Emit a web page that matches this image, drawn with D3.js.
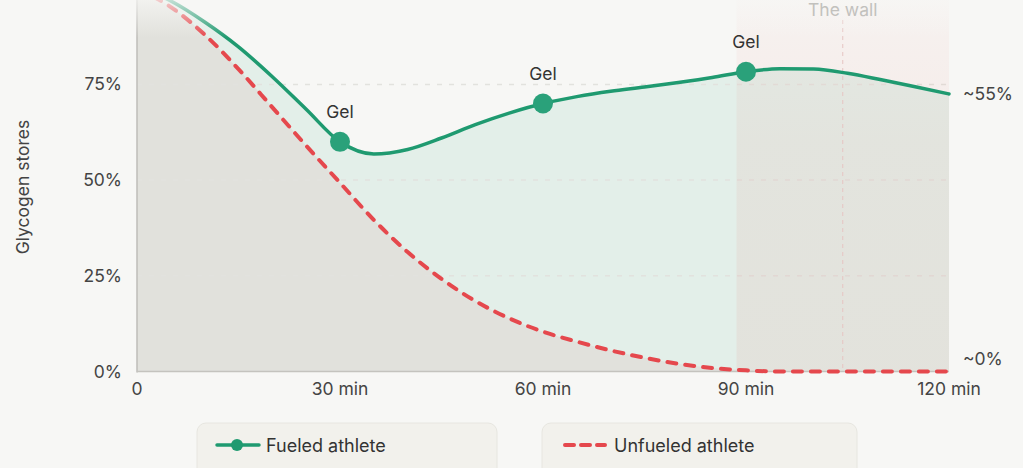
<!DOCTYPE html>
<html lang="en">
<head>
<meta charset="UTF-8">
<title>Glycogen stores</title>
<script src="https://cdn.jsdelivr.net/npm/d3@7"></script>
<style>
    html, body { margin: 0; padding: 0; background: #f7f7f5; overflow: hidden; }
    svg { display: block; font-family: "Inter", "Noto Sans", sans-serif; }
</style>
</head>
<body>
<div id="chart"></div>
<script>
    // time in minutes
    var minutes = [0, 5, 10, 15, 20, 25, 30, 35, 40, 45, 50, 55, 60, 65, 70, 75, 80, 85, 90, 95, 100, 105, 110, 115, 120];
    // glycogen %
    var fueled = [100.5, 96.8, 91.3, 84.8, 77, 68.5, 60, 56.8, 58, 61, 64.5, 67.5, 70, 71.8, 73.2, 74.3, 75.5, 76.8, 78.3, 79.1, 79, 77.9, 76.2, 74.4, 72.5];
    var unfueled = [100, 95.2, 88, 79, 69, 59, 49.3, 39.6, 31.2, 24.2, 18.4, 13.9, 10.4, 7.8, 5.5, 3.6, 2, 0.9, 0.3, 0, 0, 0, 0, 0, 0];
    var gelTimes = [30, 60, 90];
    var gelValues = [60, 70, 78.3];
    var yTicks = [0, 25, 50, 75];
    var xTicks = [0, 30, 60, 90, 120];
    var xTickLabels = ["0", "30 min", "60 min", "90 min", "120 min"];
    var wallStart = 88.6, wallEnd = 120;
    var legendLabels = ["Fueled athlete", "Unfueled athlete"];

    var width = 1023, height = 468;
    var green = "#1f9a70", red = "#e5484d";
    var fs = 17.5;

    var svg = d3.select("#chart").append("svg")
        .attr("width", width).attr("height", height);

    var x = d3.scaleLinear().domain([0, 120]).range([137, 949]);
    var y = d3.scaleLinear().domain([0, 100]).range([371.5, -11.3]);

    var defs = svg.append("defs");
    var wg = defs.append("linearGradient").attr("id", "wallGrad")
        .attr("x1", 0).attr("y1", 0).attr("x2", 0).attr("y2", 1);
    wg.append("stop").attr("offset", "0%").attr("stop-color", "#e0524a").attr("stop-opacity", 0.03);
    wg.append("stop").attr("offset", "40%").attr("stop-color", "#e0524a").attr("stop-opacity", 0.07);
    wg.append("stop").attr("offset", "100%").attr("stop-color", "#e0524a").attr("stop-opacity", 0.08);

    var fg = defs.append("linearGradient").attr("id", "fadeTop")
        .attr("x1", 0).attr("y1", 0).attr("x2", 0).attr("y2", 1);
    fg.append("stop").attr("offset", "0%").attr("stop-color", "#f7f7f5").attr("stop-opacity", 0.75);
    fg.append("stop").attr("offset", "100%").attr("stop-color", "#f7f7f5").attr("stop-opacity", 0);

    var fuelData = minutes.map(function(m, i) { return {t: m, v: fueled[i]}; });
    var unfuelData = minutes.map(function(m, i) { return {t: m, v: unfueled[i]}; });

    var area = d3.area().curve(d3.curveMonotoneX)
        .x(function(d) { return x(d.t); })
        .y0(y(0))
        .y1(function(d) { return y(d.v); });
    var line = d3.line().curve(d3.curveMonotoneX)
        .x(function(d) { return x(d.t); })
        .y(function(d) { return y(d.v); });

    // areas
    svg.append("path").datum(fuelData).attr("d", area).attr("fill", "#e3efe9");
    svg.append("path").datum(unfuelData).attr("d", area).attr("fill", "#e1e1dc");

    // grid lines
    svg.append("g").selectAll("line")
        .data(yTicks.filter(function(d) { return d > 0; }))
        .join("line")
        .attr("x1", x(0)).attr("x2", x(120))
        .attr("y1", function(d) { return y(d); })
        .attr("y2", function(d) { return y(d); })
        .attr("stroke", "#e2e2de")
        .attr("stroke-width", 1.5)
        .attr("stroke-dasharray", "5,7");

    // the wall
    svg.append("rect")
        .attr("x", x(wallStart)).attr("y", y(100))
        .attr("width", x(wallEnd) - x(wallStart))
        .attr("height", y(0) - y(100))
        .attr("fill", "url(#wallGrad)");
    var wallMid = (wallStart + wallEnd) / 2;
    svg.append("line")
        .attr("x1", x(wallMid)).attr("x2", x(wallMid))
        .attr("y1", 20).attr("y2", y(0))
        .attr("stroke", "#e6c4c2")
        .attr("stroke-width", 1)
        .attr("stroke-dasharray", "4,4");

    // axes lines
    svg.append("line")
        .attr("x1", x(0)).attr("x2", x(0))
        .attr("y1", y(100)).attr("y2", y(0) + 1)
        .attr("stroke", "#bebdb8").attr("stroke-width", 1.5);
    svg.append("line")
        .attr("x1", x(0)).attr("x2", x(120))
        .attr("y1", y(0)).attr("y2", y(0))
        .attr("stroke", "#c4c3be").attr("stroke-width", 1.5);

    // lines
    svg.append("path").datum(unfuelData).attr("d", line)
        .attr("fill", "none").attr("stroke", red)
        .attr("stroke-width", 4)
        .attr("stroke-linecap", "round")
        .attr("stroke-dasharray", "9,9");
    svg.append("path").datum(fuelData).attr("d", line)
        .attr("fill", "none").attr("stroke", green)
        .attr("stroke-width", 3.5)
        .attr("stroke-linecap", "round");

    // top fade
    svg.append("rect")
        .attr("x", 0).attr("y", 0).attr("width", width).attr("height", 38)
        .attr("fill", "url(#fadeTop)");

    svg.append("text")
        .attr("x", x(wallMid)).attr("y", 16)
        .attr("text-anchor", "middle")
        .attr("font-size", fs)
        .attr("fill", "#c2c1bd")
        .text("The wall");

    // gel markers
    svg.append("g").selectAll("circle")
        .data(gelTimes)
        .join("circle")
        .attr("cx", function(d) { return x(d); })
        .attr("cy", function(d, i) { return y(gelValues[i]); })
        .attr("r", 10)
        .attr("fill", "#2aa17a");
    svg.append("g").selectAll("text")
        .data(gelTimes)
        .join("text")
        .attr("x", function(d) { return x(d); })
        .attr("y", function(d, i) { return y(gelValues[i]) - 24; })
        .attr("text-anchor", "middle")
        .attr("font-size", fs)
        .attr("fill", "#333")
        .text("Gel");

    // tick labels
    svg.append("g").selectAll("text")
        .data(yTicks)
        .join("text")
        .attr("x", 122)
        .attr("y", function(d) { return y(d) + 6; })
        .attr("text-anchor", "end")
        .attr("font-size", fs)
        .attr("fill", "#444")
        .text(function(d) { return d + "%"; });
    svg.append("g").selectAll("text")
        .data(xTicks)
        .join("text")
        .attr("x", function(d) { return x(d); })
        .attr("y", 395)
        .attr("text-anchor", "middle")
        .attr("font-size", fs)
        .attr("fill", "#444")
        .text(function(d, i) { return xTickLabels[i]; });

    svg.append("text")
        .attr("transform", "translate(29,187) rotate(-90)")
        .attr("text-anchor", "middle")
        .attr("font-size", fs)
        .attr("fill", "#444")
        .text("Glycogen stores");

    // end labels
    svg.append("text").attr("x", 963).attr("y", 100)
        .attr("font-size", fs).attr("fill", "#444").text("~55%");
    svg.append("text").attr("x", 963).attr("y", 365)
        .attr("font-size", fs).attr("fill", "#444").text("~0%");

    // legend
    var legend = svg.append("g");
    var boxes = [{x: 197, w: 300}, {x: 542, w: 315}];
    boxes.forEach(function(b, i) {
        legend.append("rect")
            .attr("x", b.x).attr("y", 423)
            .attr("width", b.w).attr("height", 70)
            .attr("rx", 9)
            .attr("fill", "#f2f1ec")
            .attr("stroke", "#e7e6e0");
        legend.append("text")
            .attr("x", b.x + (i === 0 ? 69 : 72)).attr("y", 451.5)
            .attr("font-size", 18).attr("fill", "#333")
            .text(legendLabels[i]);
    });
    legend.append("line")
        .attr("x1", 217).attr("x2", 259).attr("y1", 445).attr("y2", 445)
        .attr("stroke", green).attr("stroke-width", 3.5).attr("stroke-linecap", "round");
    legend.append("circle").attr("cx", 237).attr("cy", 445).attr("r", 6).attr("fill", green);
    legend.append("line")
        .attr("x1", 565).attr("x2", 605).attr("y1", 445).attr("y2", 445)
        .attr("stroke", red).attr("stroke-width", 4)
        .attr("stroke-linecap", "round")
        .attr("stroke-dasharray", "9,7");
</script>
</body>
</html>
